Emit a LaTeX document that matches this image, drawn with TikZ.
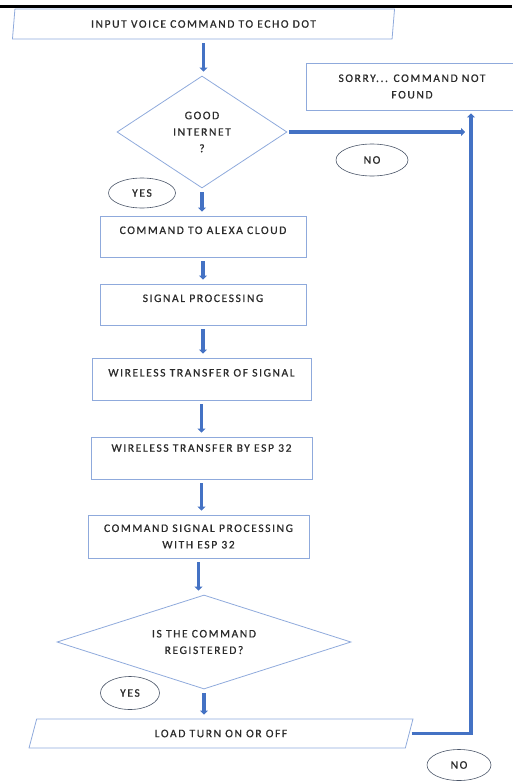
\documentclass[tikz,border=0pt]{standalone}
\usepackage{fontspec}
\setmainfont{Carlito}[LetterSpace=14,FakeBold=0.8]
\usetikzlibrary{shapes.geometric,arrows.meta}
\definecolor{flowblue}{HTML}{4472C4}
\definecolor{edgeblue}{HTML}{8FAADC}
\definecolor{ovalgray}{HTML}{4A5568}
\definecolor{textgray}{HTML}{2B2B2B}

\begin{document}
\begin{tikzpicture}[x=1pt,y=-1pt,
		every node/.style={font=\fontsize{11.5}{16.5}\selectfont,text=textgray,align=center},
		procbox/.style={draw=edgeblue,line width=0.8pt,rectangle,inner sep=0pt},
		iobox/.style={draw=edgeblue,line width=0.8pt,trapezium,trapezium stretches=true,inner sep=0pt},
		decision/.style={draw=edgeblue,line width=0.8pt,diamond,inner sep=0pt},
		answer/.style={draw=ovalgray,line width=0.6pt,ellipse,inner sep=0pt},
		flow/.style={draw=flowblue,line width=3.5pt,-{Triangle[width=8pt,length=4pt]},shorten <=4pt,shorten >=4pt}]
			\useasboundingbox (0,0) rectangle (512,781);
			\draw[line width=3pt] (0,6.5) -- (512,6.5);
			% boxes
			\node[iobox,trapezium left angle=79,trapezium right angle=101,minimum width=383pt,minimum height=30pt] (input) at (203.5,24) {INPUT VOICE COMMAND TO ECHO DOT};
			\node[decision,minimum width=170pt,minimum height=112pt,label={center:GOOD\\INTERNET\\?}] (net) at (202,132) {};
			\node[procbox,minimum width=212pt,minimum height=47pt] (sorry) at (412,86.5) {SORRY... COMMAND NOT\\FOUND};
			\node[procbox,minimum width=206pt,minimum height=41pt] (alexa) at (203,236.5) {COMMAND TO ALEXA CLOUD\\[-4pt]~};
			\node[procbox,minimum width=206pt,minimum height=41pt] (sig) at (203,304.5) {SIGNAL PROCESSING\\[-4pt]~};
			\node[procbox,minimum width=219pt,minimum height=42pt] (wifi) at (201.5,379) {WIRELESS TRANSFER OF SIGNAL\\[-4pt]~};
			\node[procbox,minimum width=221pt,minimum height=42pt] (esp) at (201.5,458) {WIRELESS TRANSFER BY ESP 32\\[3.5pt]~};
			\node[procbox,minimum width=221pt,minimum height=43pt] (proc) at (198.5,536.5) {COMMAND SIGNAL PROCESSING\\WITH ESP 32};
			\node[decision,minimum width=294pt,minimum height=94pt,label={center:IS THE COMMAND\\REGISTERED?}] (reg) at (204,642) {};
			\node[iobox,trapezium left angle=70,trapezium right angle=110,minimum width=384pt,minimum height=29pt] (load) at (221,733.5) {LOAD TURN ON OR OFF};
			% answers
			\node[answer,minimum width=67pt,minimum height=30pt] (yesnet) at (142,193) {YES};
			\node[answer,minimum width=72pt,minimum height=32pt] (nonet) at (372,160) {NO};
			\node[answer,minimum width=59pt,minimum height=33pt] (yesreg) at (130,693) {YES};
			\node[answer,minimum width=64pt,minimum height=31pt] (noreg) at (459,765) {NO};
			% arrows
			\coordinate (rail) at (471,0);
			\draw[flow] (input.south) -- (input.south |- net.north);
			\draw[flow] (net.south) -- (net.south |- alexa.north);
			\draw[flow] (alexa.south) -- (alexa.south |- sig.north);
			\draw[flow] (sig.south) -- (sig.south |- wifi.north);
			\draw[flow] (wifi.south) -- (wifi.south |- esp.north);
			\draw[flow] (esp.south) -- (esp.south |- proc.north);
			\draw[flow] (proc.south) -- (proc.south |- reg.north);
			\draw[flow] (reg.south) -- (reg.south |- load.north);
			\draw[flow,shorten <=2pt,shorten >=6pt] (net.east) -- (net.east -| rail);
			\draw[flow,shorten <=2pt,shorten >=3pt] (load.east) -| (rail |- sorry.south);
		\end{tikzpicture}
\end{document}
